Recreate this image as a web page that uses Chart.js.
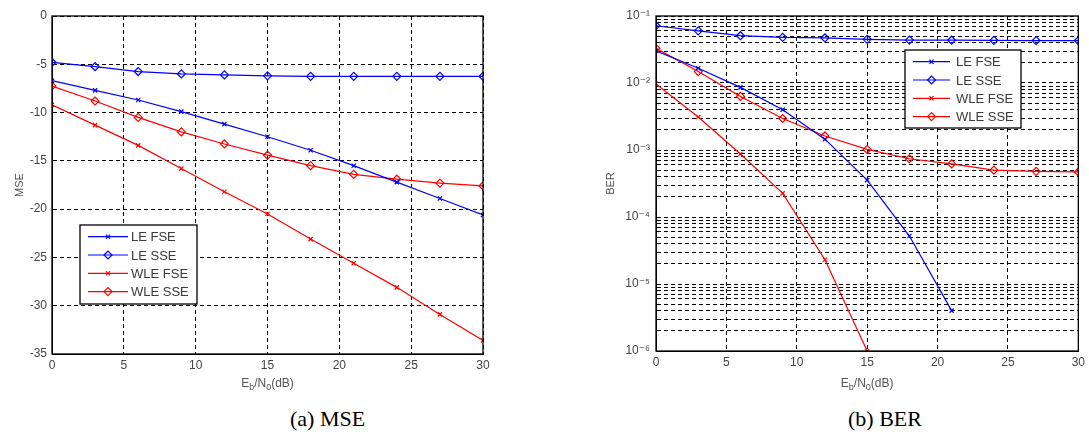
<!DOCTYPE html>
<html lang="en">
<head>
<meta charset="utf-8">
<title>MSE and BER vs Eb/N0</title>
<script src="https://cdn.jsdelivr.net/npm/chart.js@4"></script>
<style>
    body {
        margin: 0;
        background: #fff;
        width: 1089px;
        height: 437px;
        overflow: hidden;
        position: relative;
    }
    .box {
        position: absolute;
        top: 0;
        height: 400px;
    }
    #boxA { left: 0; width: 500px; }
    #boxB { left: 590px; width: 499px; }
    .cap {
        position: absolute;
        top: 406px;
        font: 22px "Liberation Serif", "Times New Roman", serif;
        color: #000;
        white-space: nowrap;
    }
</style>
</head>
<body>

<div class="box" id="boxA"><canvas id="mseChart" width="500" height="400"></canvas></div>
<div class="box" id="boxB"><canvas id="berChart" width="499" height="400"></canvas></div>
<div class="cap" style="left:290px">(a) MSE</div>
<div class="cap" style="left:848px">(b) BER</div>

<script>
    // x values (Eb/N0 in dB)
    const snr = [0, 3, 6, 9, 12, 15, 18, 21, 24, 27, 30];
    const seriesNames = ['LE FSE', 'LE SSE', 'WLE FSE', 'WLE SSE'];

    // (a) MSE in dB
    const mseLeFse  = [-6.7, -7.7, -8.7, -9.9, -11.2, -12.5, -13.9, -15.5, -17.2, -18.9, -20.6];
    const mseLeSse  = [-4.8, -5.25, -5.75, -6.0, -6.1, -6.2, -6.25, -6.25, -6.25, -6.25, -6.25];
    const mseWleFse = [-9.2, -11.3, -13.4, -15.8, -18.2, -20.5, -23.1, -25.6, -28.1, -30.9, -33.6];
    const mseWleSse = [-7.25, -8.8, -10.5, -12.0, -13.25, -14.4, -15.5, -16.4, -16.9, -17.3, -17.6];
    const mseTicks  = [0, -5, -10, -15, -20, -25, -30, -35];
    const snrTicks  = [0, 5, 10, 15, 20, 25, 30];

    // (b) BER (LE FSE stops at 21 dB, WLE FSE at 15 dB)
    const berLeFse  = [0.0303, 0.0166, 0.0086, 0.0040, 0.00145, 0.000355, 0.000052, 0.000004];
    const berLeSse  = [0.0716, 0.060, 0.0508, 0.048, 0.047, 0.0449, 0.0437, 0.0435, 0.0433, 0.0430, 0.0430];
    const berWleFse = [0.0097, 0.0031, 0.00087, 0.000225, 0.000023, 0.000001];
    const berWleSse = [0.033, 0.0148, 0.0063, 0.00295, 0.00162, 0.00102, 0.00074, 0.00062, 0.0005, 0.00048, 0.00047];
    const berDecades = [-6, -5, -4, -3, -2, -1];

    const BLUE = '#0000ff';
    const RED = '#ff0000';
    const TICK_COLOR = '#444';
    const FONT = '"Liberation Sans", Arial, "DejaVu Sans", sans-serif';

    function pts(ys) {
        return ys.map((y, i) => ({ x: snr[i], y: y }));
    }

    function makeSet(name, ys, color, style) {
        return {
            label: name,
            data: pts(ys),
            borderColor: color,
            backgroundColor: color,
            borderWidth: 1.2,
            pointStyle: style,
            pointRadius: style === 'crossRot' ? 3 : 4,
            pointBorderWidth: 1.2,
            pointBorderColor: color,
            pointBackgroundColor: 'rgba(0,0,0,0)',
            tension: 0
        };
    }

    const sup = { '-': '\u207B', '0': '\u2070', '1': '\u00B9', '2': '\u00B2', '3': '\u00B3',
                  '4': '\u2074', '5': '\u2075', '6': '\u2076', '7': '\u2077', '8': '\u2078', '9': '\u2079' };

    // box, legend inside plot, axis titles
    const framePlugin = {
        id: 'frame',
        afterDraw(chart, args, opts) {
            const ctx = chart.ctx;
            const a = chart.chartArea;
            ctx.save();

            // box around the plot
            ctx.strokeStyle = '#000';
            ctx.lineWidth = 1.3;
            ctx.strokeRect(a.left, a.top, a.right - a.left, a.bottom - a.top);

            // legend
            const L = opts.legend;
            ctx.fillStyle = '#fff';
            ctx.fillRect(L.x, L.y, L.w, L.h);
            ctx.strokeRect(L.x, L.y, L.w, L.h);
            ctx.font = '13px ' + FONT;
            ctx.textBaseline = 'middle';
            chart.data.datasets.forEach((ds, i) => {
                const y = L.y + 11.7 + i * 18.3;
                ctx.strokeStyle = ds.borderColor;
                ctx.lineWidth = 1.2;
                ctx.beginPath();
                ctx.moveTo(L.x + 8, y);
                ctx.lineTo(L.x + L.lineEnd, y);
                ctx.stroke();
                ctx.fillStyle = 'rgba(0,0,0,0)';
                Chart.helpers.drawPoint(ctx, {
                    pointStyle: ds.pointStyle,
                    radius: ds.pointRadius,
                    rotation: 0,
                    borderWidth: 1.2
                }, L.x + (8 + L.lineEnd) / 2, y);
                ctx.fillStyle = '#3a3a3a';
                ctx.fillText(ds.label, L.x + 51, y + 1);
            });

            // y title
            ctx.fillStyle = '#555';
            ctx.font = '11px ' + FONT;
            ctx.textAlign = 'center';
            ctx.textBaseline = 'middle';
            ctx.save();
            ctx.translate(opts.yTitleX, (a.top + a.bottom) / 2);
            ctx.rotate(-Math.PI / 2);
            ctx.fillText(opts.yTitle, 0, 0);
            ctx.restore();

            // x title: E_b/N_0(dB)
            const parts = [['E', 0, 12], ['b', 3, 9], ['/N', 0, 12], ['0', 3, 9], ['(dB)', 0, 12]];
            let total = 0;
            parts.forEach(p => { ctx.font = p[2] + 'px ' + FONT; total += ctx.measureText(p[0]).width; });
            let x = (a.left + a.right) / 2 - total / 2;
            ctx.textAlign = 'left';
            ctx.textBaseline = 'alphabetic';
            parts.forEach(p => {
                ctx.font = p[2] + 'px ' + FONT;
                ctx.fillText(p[0], x, opts.xTitleY + p[1]);
                x += ctx.measureText(p[0]).width;
            });
            ctx.restore();
        }
    };

    const gridStyle = {
        color: '#000',
        lineWidth: 1,
        drawTicks: false,
        tickLength: 0
    };

    function xScale(height) {
        return {
            type: 'linear',
            min: 0,
            max: 30,
            afterBuildTicks: s => { s.ticks = snrTicks.map(v => ({ value: v })); },
            afterFit: s => { s.height = height; },
            grid: gridStyle,
            border: { display: true, color: '#000', width: 1, dash: [4, 3] },
            ticks: { color: TICK_COLOR, font: { size: 12, family: FONT }, padding: 4, maxRotation: 0 }
        };
    }

    // (a) MSE
    new Chart(document.getElementById('mseChart'), {
        type: 'line',
        data: {
            datasets: [
                makeSet(seriesNames[0], mseLeFse, BLUE, 'crossRot'),
                makeSet(seriesNames[1], mseLeSse, BLUE, 'rectRot'),
                makeSet(seriesNames[2], mseWleFse, RED, 'crossRot'),
                makeSet(seriesNames[3], mseWleSse, RED, 'rectRot')
            ]
        },
        options: {
            responsive: false,
            animation: false,
            devicePixelRatio: 1,
            layout: { padding: { top: 16, right: 17, left: 0, bottom: 0 } },
            scales: {
                x: xScale(46),
                y: {
                    type: 'linear',
                    min: -35,
                    max: 0,
                    afterBuildTicks: s => { s.ticks = mseTicks.map(v => ({ value: v })); },
                    afterFit: s => { s.width = 52; },
                    grid: gridStyle,
                    border: { display: true, color: '#000', width: 1, dash: [4, 3] },
                    ticks: { color: TICK_COLOR, font: { size: 12, family: FONT }, padding: 5 }
                }
            },
            plugins: {
                legend: { display: false },
                tooltip: { enabled: false },
                frame: {
                    legend: { x: 80, y: 225, w: 117, h: 79, lineEnd: 48 },
                    yTitle: 'MSE',
                    yTitleX: 20,
                    xTitleY: 387
                }
            }
        },
        plugins: [framePlugin]
    });

    // (b) BER
    new Chart(document.getElementById('berChart'), {
        type: 'line',
        data: {
            datasets: [
                makeSet(seriesNames[0], berLeFse, BLUE, 'crossRot'),
                makeSet(seriesNames[1], berLeSse, BLUE, 'rectRot'),
                makeSet(seriesNames[2], berWleFse, RED, 'crossRot'),
                makeSet(seriesNames[3], berWleSse, RED, 'rectRot')
            ]
        },
        options: {
            responsive: false,
            animation: false,
            devicePixelRatio: 1,
            layout: { padding: { top: 16, right: 7, left: 0, bottom: 0 } },
            scales: {
                x: xScale(49),
                y: {
                    type: 'logarithmic',
                    min: 1e-6,
                    max: 1e-1,
                    afterBuildTicks: s => {
                        const t = [];
                        berDecades.forEach(d => {
                            const mults = d === -1 ? [1] : [1, 2, 3, 4, 5, 6, 7, 8, 9];
                            mults.forEach(m => t.push({ value: m * Math.pow(10, d) }));
                        });
                        s.ticks = t;
                    },
                    afterFit: s => { s.width = 66; },
                    grid: gridStyle,
                    border: { display: true, color: '#000', width: 1, dash: [4, 3] },
                    ticks: {
                        color: TICK_COLOR,
                        font: { size: 12, family: FONT },
                        padding: 6,
                        autoSkip: false,
                        callback: v => {
                            const e = Math.log10(v);
                            if (Math.abs(e - Math.round(e)) > 1e-9) return '';
                            return '10' + String(Math.round(e)).split('').map(c => sup[c]).join('');
                        }
                    }
                }
            },
            plugins: {
                legend: { display: false },
                tooltip: { enabled: false },
                frame: {
                    legend: { x: 315, y: 50, w: 116, h: 78, lineEnd: 45 },
                    yTitle: 'BER',
                    yTitleX: 21,
                    xTitleY: 387
                }
            }
        },
        plugins: [framePlugin]
    });
</script>
</body>
</html>
